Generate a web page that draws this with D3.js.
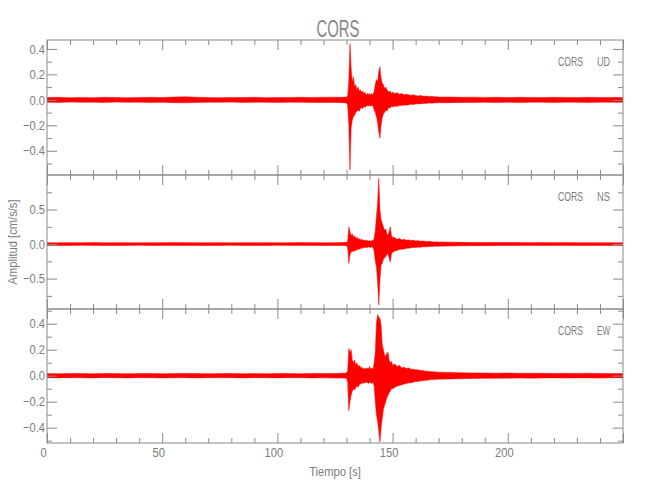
<!DOCTYPE html>
<html><head><meta charset="utf-8">
<script src="https://cdn.jsdelivr.net/npm/d3@7"></script>
<style>body{margin:0;background:#fff}</style>
</head><body>
<svg id="c" width="650" height="500"></svg>
<script>
// ---------------- data ----------------
const station = "CORS";
const channels = ["UD", "NS", "EW"];
// sample times (s) of the read envelope
const times = [0,5,10,15,20,25,30,35,40,45,50,55,60,65,70,75,80,85,90,95,100,105,110,115,120,125,128,130,
  130.5,131,131.5,132,132.5,133,133.5,134,134.5,135,135.5,136,136.5,137,137.5,138,138.5,139,139.5,140,
  140.5,141,141.5,142,142.5,143,143.5,144,144.5,145,145.5,146,146.5,147,147.5,148,148.5,149,149.5,150,
  151,152,153,154,155,156,157,158,159,160,161,162,163,164,165,166,167,168,169,170,
  175,180,185,190,195,200,205,210,215,220,225,230,235,240,245,250];

const udMax = [0.018,0.02,0.017,0.019,0.016,0.02,0.018,0.017,0.019,0.02,0.018,0.022,0.024,0.02,0.018,0.017,0.019,0.018,0.02,0.017,0.019,0.018,0.02,0.019,0.02,0.021,0.02,0.022,
  0.03,0.15,0.44,0.25,0.14,0.18,0.1,0.12,0.08,0.1,0.07,0.08,0.06,0.07,0.05,0.06,0.04,0.05,0.04,0.05,
  0.04,0.05,0.04,0.07,0.12,0.16,0.14,0.22,0.26,0.17,0.13,0.12,0.09,0.1,0.08,0.07,0.06,0.07,0.05,0.06,
  0.05,0.055,0.045,0.05,0.04,0.045,0.04,0.035,0.04,0.035,0.03,0.035,0.03,0.028,0.03,0.025,0.028,0.024,0.025,0.022,
  0.022,0.02,0.021,0.019,0.02,0.018,0.02,0.019,0.018,0.02,0.019,0.018,0.02,0.018,0.019,0.018];
const udMin = [-0.018,-0.02,-0.017,-0.019,-0.018,-0.02,-0.017,-0.019,-0.018,-0.02,-0.019,-0.022,-0.023,-0.02,-0.018,-0.019,-0.017,-0.02,-0.018,-0.019,-0.02,-0.018,-0.019,-0.02,-0.021,-0.02,-0.022,-0.024,
  -0.04,-0.2,-0.55,-0.22,-0.16,-0.13,-0.12,-0.1,-0.09,-0.08,-0.09,-0.07,-0.06,-0.07,-0.05,-0.06,-0.05,-0.045,-0.05,-0.04,
  -0.05,-0.045,-0.05,-0.08,-0.1,-0.13,-0.18,-0.25,-0.3,-0.2,-0.14,-0.11,-0.1,-0.08,-0.09,-0.07,-0.06,-0.065,-0.05,-0.055,
  -0.05,-0.05,-0.045,-0.045,-0.04,-0.042,-0.038,-0.035,-0.036,-0.033,-0.03,-0.032,-0.028,-0.028,-0.027,-0.025,-0.026,-0.024,-0.023,-0.022,
  -0.022,-0.02,-0.02,-0.019,-0.02,-0.018,-0.02,-0.019,-0.018,-0.02,-0.018,-0.019,-0.02,-0.018,-0.019,-0.018];

const nsMax = [0.02,0.018,0.02,0.019,0.021,0.018,0.02,0.019,0.02,0.018,0.02,0.021,0.02,0.019,0.018,0.02,0.019,0.02,0.018,0.02,0.019,0.02,0.021,0.02,0.019,0.02,0.022,0.025,
  0.04,0.25,0.18,0.12,0.15,0.1,0.12,0.08,0.1,0.07,0.08,0.06,0.07,0.06,0.05,0.06,0.05,0.05,0.04,0.05,
  0.04,0.05,0.05,0.08,0.2,0.4,0.6,0.95,0.5,0.35,0.3,0.25,0.2,0.22,0.15,0.13,0.18,0.25,0.12,0.1,
  0.09,0.07,0.08,0.06,0.07,0.055,0.06,0.05,0.055,0.045,0.05,0.04,0.045,0.04,0.035,0.04,0.035,0.03,0.032,0.03,
  0.028,0.025,0.024,0.022,0.023,0.021,0.022,0.02,0.021,0.02,0.021,0.02,0.02,0.019,0.02,0.02];
const nsMin = [-0.02,-0.019,-0.02,-0.018,-0.02,-0.021,-0.019,-0.02,-0.018,-0.02,-0.019,-0.02,-0.021,-0.02,-0.019,-0.02,-0.018,-0.02,-0.019,-0.02,-0.018,-0.02,-0.019,-0.02,-0.021,-0.02,-0.022,-0.025,
  -0.05,-0.28,-0.15,-0.12,-0.1,-0.11,-0.09,-0.1,-0.08,-0.07,-0.08,-0.06,-0.065,-0.05,-0.055,-0.05,-0.045,-0.05,-0.04,-0.045,
  -0.05,-0.04,-0.05,-0.1,-0.25,-0.33,-0.55,-0.88,-0.52,-0.3,-0.28,-0.22,-0.2,-0.18,-0.15,-0.14,-0.2,-0.26,-0.14,-0.12,
  -0.1,-0.09,-0.08,-0.075,-0.07,-0.06,-0.06,-0.055,-0.05,-0.05,-0.045,-0.045,-0.04,-0.04,-0.038,-0.035,-0.035,-0.032,-0.03,-0.03,
  -0.028,-0.026,-0.024,-0.023,-0.022,-0.021,-0.022,-0.02,-0.021,-0.02,-0.02,-0.021,-0.02,-0.019,-0.02,-0.02];

const ewMax = [0.016,0.015,0.017,0.016,0.015,0.017,0.016,0.015,0.016,0.017,0.015,0.016,0.017,0.016,0.015,0.016,0.017,0.015,0.016,0.015,0.017,0.016,0.015,0.017,0.016,0.017,0.018,0.02,
  0.04,0.21,0.18,0.2,0.12,0.1,0.12,0.08,0.1,0.07,0.08,0.06,0.07,0.05,0.06,0.05,0.055,0.06,0.05,0.07,
  0.05,0.06,0.05,0.1,0.18,0.41,0.47,0.45,0.44,0.39,0.24,0.2,0.16,0.15,0.17,0.18,0.12,0.1,0.11,0.08,
  0.09,0.07,0.08,0.06,0.065,0.055,0.06,0.05,0.05,0.045,0.045,0.04,0.04,0.035,0.035,0.032,0.03,0.03,0.028,0.027,
  0.025,0.022,0.021,0.02,0.019,0.02,0.018,0.019,0.018,0.017,0.018,0.017,0.018,0.017,0.016,0.017];
const ewMin = [-0.016,-0.017,-0.015,-0.016,-0.017,-0.015,-0.016,-0.017,-0.015,-0.016,-0.017,-0.016,-0.015,-0.017,-0.016,-0.015,-0.016,-0.017,-0.015,-0.016,-0.017,-0.015,-0.016,-0.017,-0.016,-0.018,-0.018,-0.02,
  -0.05,-0.27,-0.2,-0.15,-0.12,-0.1,-0.11,-0.09,-0.08,-0.09,-0.07,-0.065,-0.06,-0.055,-0.06,-0.05,-0.055,-0.05,-0.06,-0.05,
  -0.055,-0.06,-0.05,-0.08,-0.2,-0.3,-0.35,-0.43,-0.51,-0.4,-0.33,-0.26,-0.23,-0.2,-0.17,-0.15,-0.13,-0.12,-0.1,-0.1,
  -0.09,-0.08,-0.075,-0.07,-0.065,-0.06,-0.055,-0.055,-0.05,-0.045,-0.045,-0.04,-0.04,-0.036,-0.035,-0.032,-0.03,-0.03,-0.028,-0.027,
  -0.025,-0.023,-0.021,-0.02,-0.019,-0.019,-0.018,-0.019,-0.018,-0.017,-0.018,-0.017,-0.017,-0.018,-0.016,-0.017];

const yDomainUD = [-0.59, 0.47];
const yDomainNS = [-0.94, 1.0];
const yDomainEW = [-0.518, 0.513];
const yMajorUD = [-0.4, -0.2, 0.0, 0.2, 0.4];
const yMinorUD = [-0.5, -0.3, -0.1, 0.1, 0.3];
const yMajorNS = [-0.5, 0.0, 0.5];
const yMinorNS = [-0.75, -0.25, 0.25, 0.75];
const yMajorEW = [-0.4, -0.2, 0.0, 0.2, 0.4];
const yMinorEW = [-0.5, -0.3, -0.1, 0.1, 0.3, 0.5];
const xDomain = [0, 250];
const xMajor = [0, 50, 100, 150, 200, 250];
const xMinor = [10,20,30,40,60,70,80,90,110,120,130,140,160,170,180,190,210,220,230,240];
const xLabels = [0, 50, 100, 150, 200];
const titleText = "CORS";
const xTitle = "Tiempo [s]";
const yTitle = "Amplitud [cm/s/s]";

// ---------------- drawing ----------------
const series = [
  {ch: "UD", max: udMax, min: udMin, dom: yDomainUD, major: yMajorUD, minor: yMinorUD},
  {ch: "NS", max: nsMax, min: nsMin, dom: yDomainNS, major: yMajorNS, minor: yMinorNS},
  {ch: "EW", max: ewMax, min: ewMin, dom: yDomainEW, major: yMajorEW, minor: yMinorEW}
];
series.forEach(s => { if (s.max.length !== times.length || s.min.length !== times.length) throw new Error(s.ch + " length mismatch"); });

const FONT = "'Liberation Sans',Arial,sans-serif";
const AX = "#8a8a8a", TX = "#7c7c7c", RED = "#ff0000";
const SX = 0.86; // horizontal squeeze to mimic the narrow vector font
const left = 47, right = 623;
const tops = [40, 175, 309], bottoms = [175, 309, 443];

const svg = d3.select("#c");
const x = d3.scaleLinear().domain(xDomain).range([left, right]);

function styleAxis(g) {
  g.select(".domain").remove();
  g.selectAll("line").attr("stroke", AX).attr("stroke-width", 1);
  g.selectAll("text").attr("fill", TX).style("font-family", FONT).style("font-size", "13px");
}
function squeeze(sel) {
  sel.each(function() {
    const t = d3.select(this);
    const x0 = +t.attr("x") || 0;
    t.attr("x", x0 / SX).attr("transform", `scale(${SX},1)`);
  });
}

series.forEach((s, i) => {
  const top = tops[i], bot = bottoms[i];
  const y = d3.scaleLinear().domain(s.dom).range([bot, top]);
  const g = svg.append("g");
  const clipId = "clip" + i;
  svg.append("clipPath").attr("id", clipId).append("rect")
    .attr("x", left).attr("y", top).attr("width", right - left).attr("height", bot - top);

  const data = times.map((t, k) => ({t, hi: s.max[k], lo: s.min[k]}));
  const area = d3.area().x(d => x(d.t)).y0(d => y(d.lo)).y1(d => y(d.hi));
  g.append("path").datum(data).attr("d", area).attr("clip-path", `url(#${clipId})`)
    .attr("fill", RED).attr("stroke", RED).attr("stroke-width", 0.5).attr("stroke-linejoin", "miter");

  // y axes
  const ly = g.append("g").attr("transform", `translate(${left},0)`)
    .call(d3.axisLeft(y).tickValues(s.major).tickSize(-10).tickPadding(2).tickFormat(d3.format(".1f"))).call(styleAxis);
  squeeze(ly.selectAll("text"));
  g.append("g").attr("transform", `translate(${left},0)`)
    .call(d3.axisLeft(y).tickValues(s.minor).tickSize(-5).tickFormat("")).call(styleAxis);
  g.append("g").attr("transform", `translate(${right},0)`)
    .call(d3.axisRight(y).tickValues(s.major).tickSize(-10).tickFormat("")).call(styleAxis);
  g.append("g").attr("transform", `translate(${right},0)`)
    .call(d3.axisRight(y).tickValues(s.minor).tickSize(-5).tickFormat("")).call(styleAxis);
  // x ticks top & bottom
  g.append("g").attr("transform", `translate(0,${top})`)
    .call(d3.axisTop(x).tickValues(xMajor).tickSize(-10).tickFormat("")).call(styleAxis);
  g.append("g").attr("transform", `translate(0,${top})`)
    .call(d3.axisTop(x).tickValues(xMinor).tickSize(-5).tickFormat("")).call(styleAxis);
  const bx = g.append("g").attr("transform", `translate(0,${bot})`)
    .call(d3.axisBottom(x).tickValues(xMajor).tickSize(-10).tickPadding(5)
      .tickFormat(d => (i === 2 && xLabels.includes(d)) ? d3.format("d")(d) : "")).call(styleAxis);
  bx.selectAll("text").attr("x", -4);
  squeeze(bx.selectAll("text"));
  g.append("g").attr("transform", `translate(0,${bot})`)
    .call(d3.axisBottom(x).tickValues(xMinor).tickSize(-5).tickFormat("")).call(styleAxis);

  // frame
  g.append("rect").attr("x", left).attr("y", top).attr("width", right - left).attr("height", bot - top)
    .attr("fill", "none").attr("stroke", AX).attr("stroke-width", 1);

  // panel label
  const lab = g.append("text").attr("y", top + 26).attr("fill", TX)
    .style("font-family", FONT).style("font-size", "13px");
  lab.append("tspan").attr("x", 558).attr("textLength", 25).attr("lengthAdjust", "spacingAndGlyphs").text(station);
  lab.append("tspan").attr("x", 597).attr("textLength", 13).attr("lengthAdjust", "spacingAndGlyphs").text(s.ch);
});

// titles
svg.append("text").attr("transform", "translate(338,37) scale(0.62,1)").attr("text-anchor", "middle")
  .attr("fill", "#858585").style("font-family", FONT).style("font-size", "24px").text(titleText);
svg.append("text").attr("transform", `translate(335,476) scale(${SX},1)`).attr("text-anchor", "middle")
  .attr("fill", TX).style("font-family", FONT).style("font-size", "13px").text(xTitle);
svg.append("text").attr("transform", `translate(17,242) rotate(-90) scale(${SX},1)`).attr("text-anchor", "middle")
  .attr("fill", TX).style("font-family", FONT).style("font-size", "13px").text(yTitle);
</script>
</body></html>
